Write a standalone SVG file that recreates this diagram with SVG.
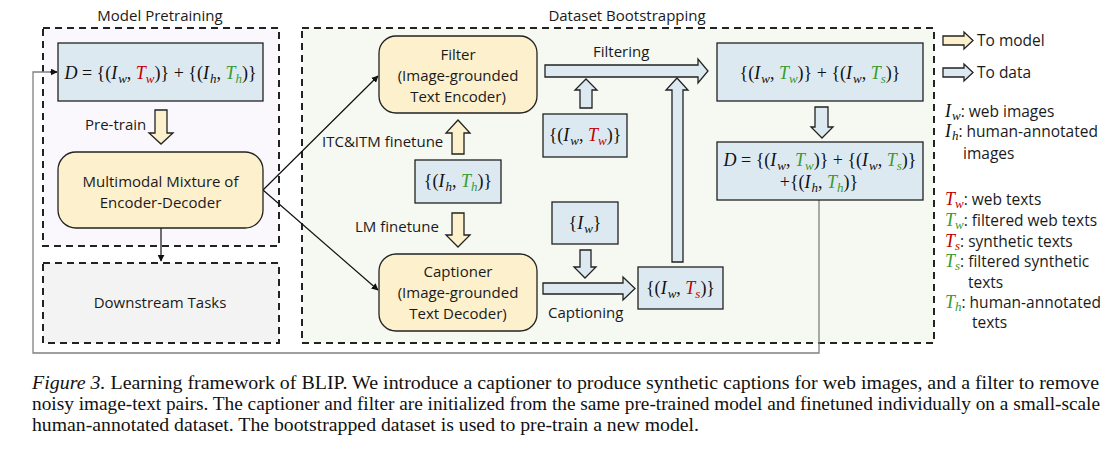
<svg xmlns="http://www.w3.org/2000/svg" width="1106" height="454" viewBox="0 0 1106 454">
<style>
.t{font-family:"Open Sans","Liberation Sans",sans-serif;font-size:15px;fill:#1a1a1a}
.lg{font-family:"Open Sans","Liberation Sans",sans-serif;font-size:15.5px;fill:#1a1a1a}
.m{font-family:"Liberation Serif","DejaVu Serif",serif;font-size:18px;fill:#111}
.i{font-style:italic}
.s{font-size:13px;font-style:italic}
.r{fill:#c00000}
.g{fill:#3a9a2e}
.blue{fill:#dde9f1;stroke:#222;stroke-width:1.3}
.yel{fill:#fdf1cd;stroke:#222;stroke-width:1.3}
.dash{stroke:#222;stroke-width:2;stroke-dasharray:7 5}
.ln{fill:none;stroke:#111;stroke-width:1.2}
.cap{font-family:"Liberation Serif","Times New Roman",serif;font-size:18px;fill:#111}
</style>
<defs>
<marker id="ah" viewBox="0 0 10 10" refX="9" refY="5" markerWidth="7" markerHeight="7" orient="auto" markerUnits="userSpaceOnUse">
<path d="M0,0 L10,5 L0,10 z" fill="#111"/>
</marker>
</defs>
<rect width="1106" height="454" fill="#fff"/>

<g id="model-pretraining">
<rect x="43" y="28" width="236" height="218" fill="#faf8fd" class="dash"/>
<text class="t" x="160" y="21" text-anchor="middle">Model Pretraining</text>
</g>
<g id="dataset-bootstrapping">
<rect x="302" y="28" width="632" height="315" fill="#f6f8f2" class="dash"/>
<text class="t" x="627" y="21" text-anchor="middle">Dataset Bootstrapping</text>
</g>
<g id="downstream">
<rect x="43" y="263" width="236" height="80" fill="#f3f3f3" class="dash"/>
<text class="t" x="160" y="308" text-anchor="middle">Downstream Tasks</text>
</g>

<g id="connectors">
<path d="M819,200 V353 H33 V72 H57" fill="none" stroke="#808080" stroke-width="1.3"/>
<path d="M50,72 H57" class="ln" marker-end="url(#ah)"/>
<path d="M161,228 V261" class="ln" stroke="#333" marker-end="url(#ah)"/>
<path d="M263,190 L378,76" class="ln" marker-end="url(#ah)"/>
<path d="M263,190 L378,290" class="ln" marker-end="url(#ah)"/>
<polygon class="yel" points="155,110 167,110 167,133 173,133 161,144 149,133 155,133"/>
<polygon class="yel" points="452,154 464,154 464,133 470,133 458,120 446,133 452,133"/>
<polygon class="yel" points="452,213 464,213 464,235 470,235 458,247 446,235 452,235"/>
<polygon class="blue" points="545,65 698,65 698,59 708,71 698,83 698,77 545,77"/>
<polygon class="blue" points="580,108 592,108 592,90 597,90 586,79 575,90 580,90"/>
<polygon class="blue" points="672,262 683,262 683,90 688,90 677,78 666,90 672,90"/>
<polygon class="blue" points="815,107 828,107 828,127 833,127 822,138 811,127 815,127"/>
<polygon class="blue" points="580,250 591,250 591,267 596,267 585,278 574,267 580,267"/>
<polygon class="blue" points="543,283 623,283 623,277 635,288.5 623,300 623,294 543,294"/>
<text class="t" x="85" y="130">Pre-train</text>
<text class="t" x="322" y="147">ITC&amp;ITM finetune</text>
<text class="t" x="355" y="232">LM finetune</text>
<text class="t" x="593" y="57">Filtering</text>
<text class="t" x="548" y="318">Captioning</text>
</g>

<g id="dataset-D">
<rect x="58" y="43" width="205" height="58" class="blue"/>
<text class="m" x="160.5" y="79" text-anchor="middle"><tspan class="i">D</tspan> = {(<tspan class="i">I</tspan><tspan class="s" dx="1" dy="4">w</tspan><tspan dy="-4">, </tspan><tspan class="i r">T</tspan><tspan class="s r" dy="4">w</tspan><tspan dy="-4">)} + {(</tspan><tspan class="i">I</tspan><tspan class="s" dx="1" dy="4">h</tspan><tspan dy="-4">, </tspan><tspan class="i g">T</tspan><tspan class="s g" dy="4">h</tspan><tspan dy="-4">)}</tspan></text>
</g>

<g id="mmed">
<rect x="58" y="152" width="205" height="76" rx="18" class="yel"/>
<text class="t" x="160.5" y="187" text-anchor="middle">Multimodal Mixture of</text>
<text class="t" x="160.5" y="208" text-anchor="middle">Encoder-Decoder</text>
</g>

<g id="filter">
<rect x="379" y="36" width="158" height="77" rx="17" class="yel"/>
<text class="t" x="458" y="60" text-anchor="middle">Filter</text>
<text class="t" x="458" y="81" text-anchor="middle">(Image-grounded</text>
<text class="t" x="458" y="102" text-anchor="middle">Text Encoder)</text>
</g>

<g id="captioner">
<rect x="379" y="254" width="158" height="77" rx="17" class="yel"/>
<text class="t" x="458" y="277" text-anchor="middle">Captioner</text>
<text class="t" x="458" y="298" text-anchor="middle">(Image-grounded</text>
<text class="t" x="458" y="319" text-anchor="middle">Text Decoder)</text>
</g>

<g id="human-data">
<rect x="415" y="160" width="86" height="43" class="blue"/>
<text class="m" x="458" y="187" text-anchor="middle">{(<tspan class="i">I</tspan><tspan class="s" dx="1" dy="4">h</tspan><tspan dy="-4">, </tspan><tspan class="i g">T</tspan><tspan class="s g" dy="4">h</tspan><tspan dy="-4">)}</tspan></text>
</g>

<g id="web-data">
<rect x="543" y="114" width="84" height="43" class="blue"/>
<text class="m" x="585" y="141" text-anchor="middle">{(<tspan class="i">I</tspan><tspan class="s" dx="1" dy="4">w</tspan><tspan dy="-4">, </tspan><tspan class="i r">T</tspan><tspan class="s r" dy="4">w</tspan><tspan dy="-4">)}</tspan></text>
</g>

<g id="web-images">
<rect x="552" y="202" width="66" height="42" class="blue"/>
<text class="m" x="585" y="229" text-anchor="middle">{<tspan class="i">I</tspan><tspan class="s" dx="1" dy="4">w</tspan><tspan dy="-4">}</tspan></text>
</g>

<g id="synthetic">
<rect x="638" y="267" width="85" height="42" class="blue"/>
<text class="m" x="680.5" y="294" text-anchor="middle">{(<tspan class="i">I</tspan><tspan class="s" dx="1" dy="4">w</tspan><tspan dy="-4">, </tspan><tspan class="i r">T</tspan><tspan class="s r" dy="4">s</tspan><tspan dy="-4">)}</tspan></text>
</g>

<g id="filtered">
<rect x="717" y="43" width="206" height="58" class="blue"/>
<text class="m" x="820" y="79" text-anchor="middle">{(<tspan class="i">I</tspan><tspan class="s" dx="1" dy="4">w</tspan><tspan dy="-4">, </tspan><tspan class="i g">T</tspan><tspan class="s g" dy="4">w</tspan><tspan dy="-4">)} + {(</tspan><tspan class="i">I</tspan><tspan class="s" dx="1" dy="4">w</tspan><tspan dy="-4">, </tspan><tspan class="i g">T</tspan><tspan class="s g" dy="4">s</tspan><tspan dy="-4">)}</tspan></text>
</g>

<g id="new-dataset">
<rect x="717" y="142" width="206" height="58" class="blue"/>
<text class="m" x="820" y="166" text-anchor="middle"><tspan class="i">D</tspan> = {(<tspan class="i">I</tspan><tspan class="s" dx="1" dy="4">w</tspan><tspan dy="-4">, </tspan><tspan class="i g">T</tspan><tspan class="s g" dy="4">w</tspan><tspan dy="-4">)} + {(</tspan><tspan class="i">I</tspan><tspan class="s" dx="1" dy="4">w</tspan><tspan dy="-4">, </tspan><tspan class="i g">T</tspan><tspan class="s g" dy="4">s</tspan><tspan dy="-4">)}</tspan></text>
<text class="m" x="819" y="188" text-anchor="middle">+{(<tspan class="i">I</tspan><tspan class="s" dx="1" dy="4">h</tspan><tspan dy="-4">, </tspan><tspan class="i g">T</tspan><tspan class="s g" dy="4">h</tspan><tspan dy="-4">)}</tspan></text>
</g>

<g id="legend">
<polygon class="yel" points="943,36 964,36 964,32 973,40.5 964,49 964,45 943,45"/>
<text class="lg" x="977" y="46">To model</text>
<polygon class="blue" points="943,68 964,68 964,64 973,72.5 964,81 964,77 943,77"/>
<text class="lg" x="977" y="78">To data</text>
<text class="lg" x="945" y="117"><tspan class="m i">I</tspan><tspan class="m s" dx="1" dy="3">w</tspan><tspan dy="-3">: web images</tspan></text>
<text class="lg" x="945" y="137"><tspan class="m i">I</tspan><tspan class="m s" dx="1" dy="3">h</tspan><tspan dy="-3">: human-annotated</tspan></text>
<text class="lg" x="963" y="159">images</text>
<text class="lg" x="945" y="205"><tspan class="m i r">T</tspan><tspan class="m s r" dy="3">w</tspan><tspan dy="-3">: web texts</tspan></text>
<text class="lg" x="945" y="226"><tspan class="m i g">T</tspan><tspan class="m s g" dy="3">w</tspan><tspan dy="-3">: filtered web texts</tspan></text>
<text class="lg" x="945" y="247"><tspan class="m i r">T</tspan><tspan class="m s r" dy="3">s</tspan><tspan dy="-3">: synthetic texts</tspan></text>
<text class="lg" x="945" y="267"><tspan class="m i g">T</tspan><tspan class="m s g" dy="3">s</tspan><tspan dy="-3">: filtered synthetic</tspan></text>
<text class="lg" x="968" y="288">texts</text>
<text class="lg" x="945" y="308"><tspan class="m i g">T</tspan><tspan class="m s g" dy="3">h</tspan><tspan dy="-3">: human-annotated</tspan></text>
<text class="lg" x="972" y="328">texts</text>
</g>

<g id="caption">
<text class="cap" x="32" y="389" textLength="1067" lengthAdjust="spacingAndGlyphs"><tspan font-style="italic">Figure 3.</tspan> Learning framework of BLIP. We introduce a captioner to produce synthetic captions for web images, and a filter to remove</text>
<text class="cap" x="32" y="410" textLength="1068" lengthAdjust="spacingAndGlyphs">noisy image-text pairs. The captioner and filter are initialized from the same pre-trained model and finetuned individually on a small-scale</text>
<text class="cap" x="32" y="431" textLength="667" lengthAdjust="spacingAndGlyphs">human-annotated dataset. The bootstrapped dataset is used to pre-train a new model.</text>
</g>
</svg>
